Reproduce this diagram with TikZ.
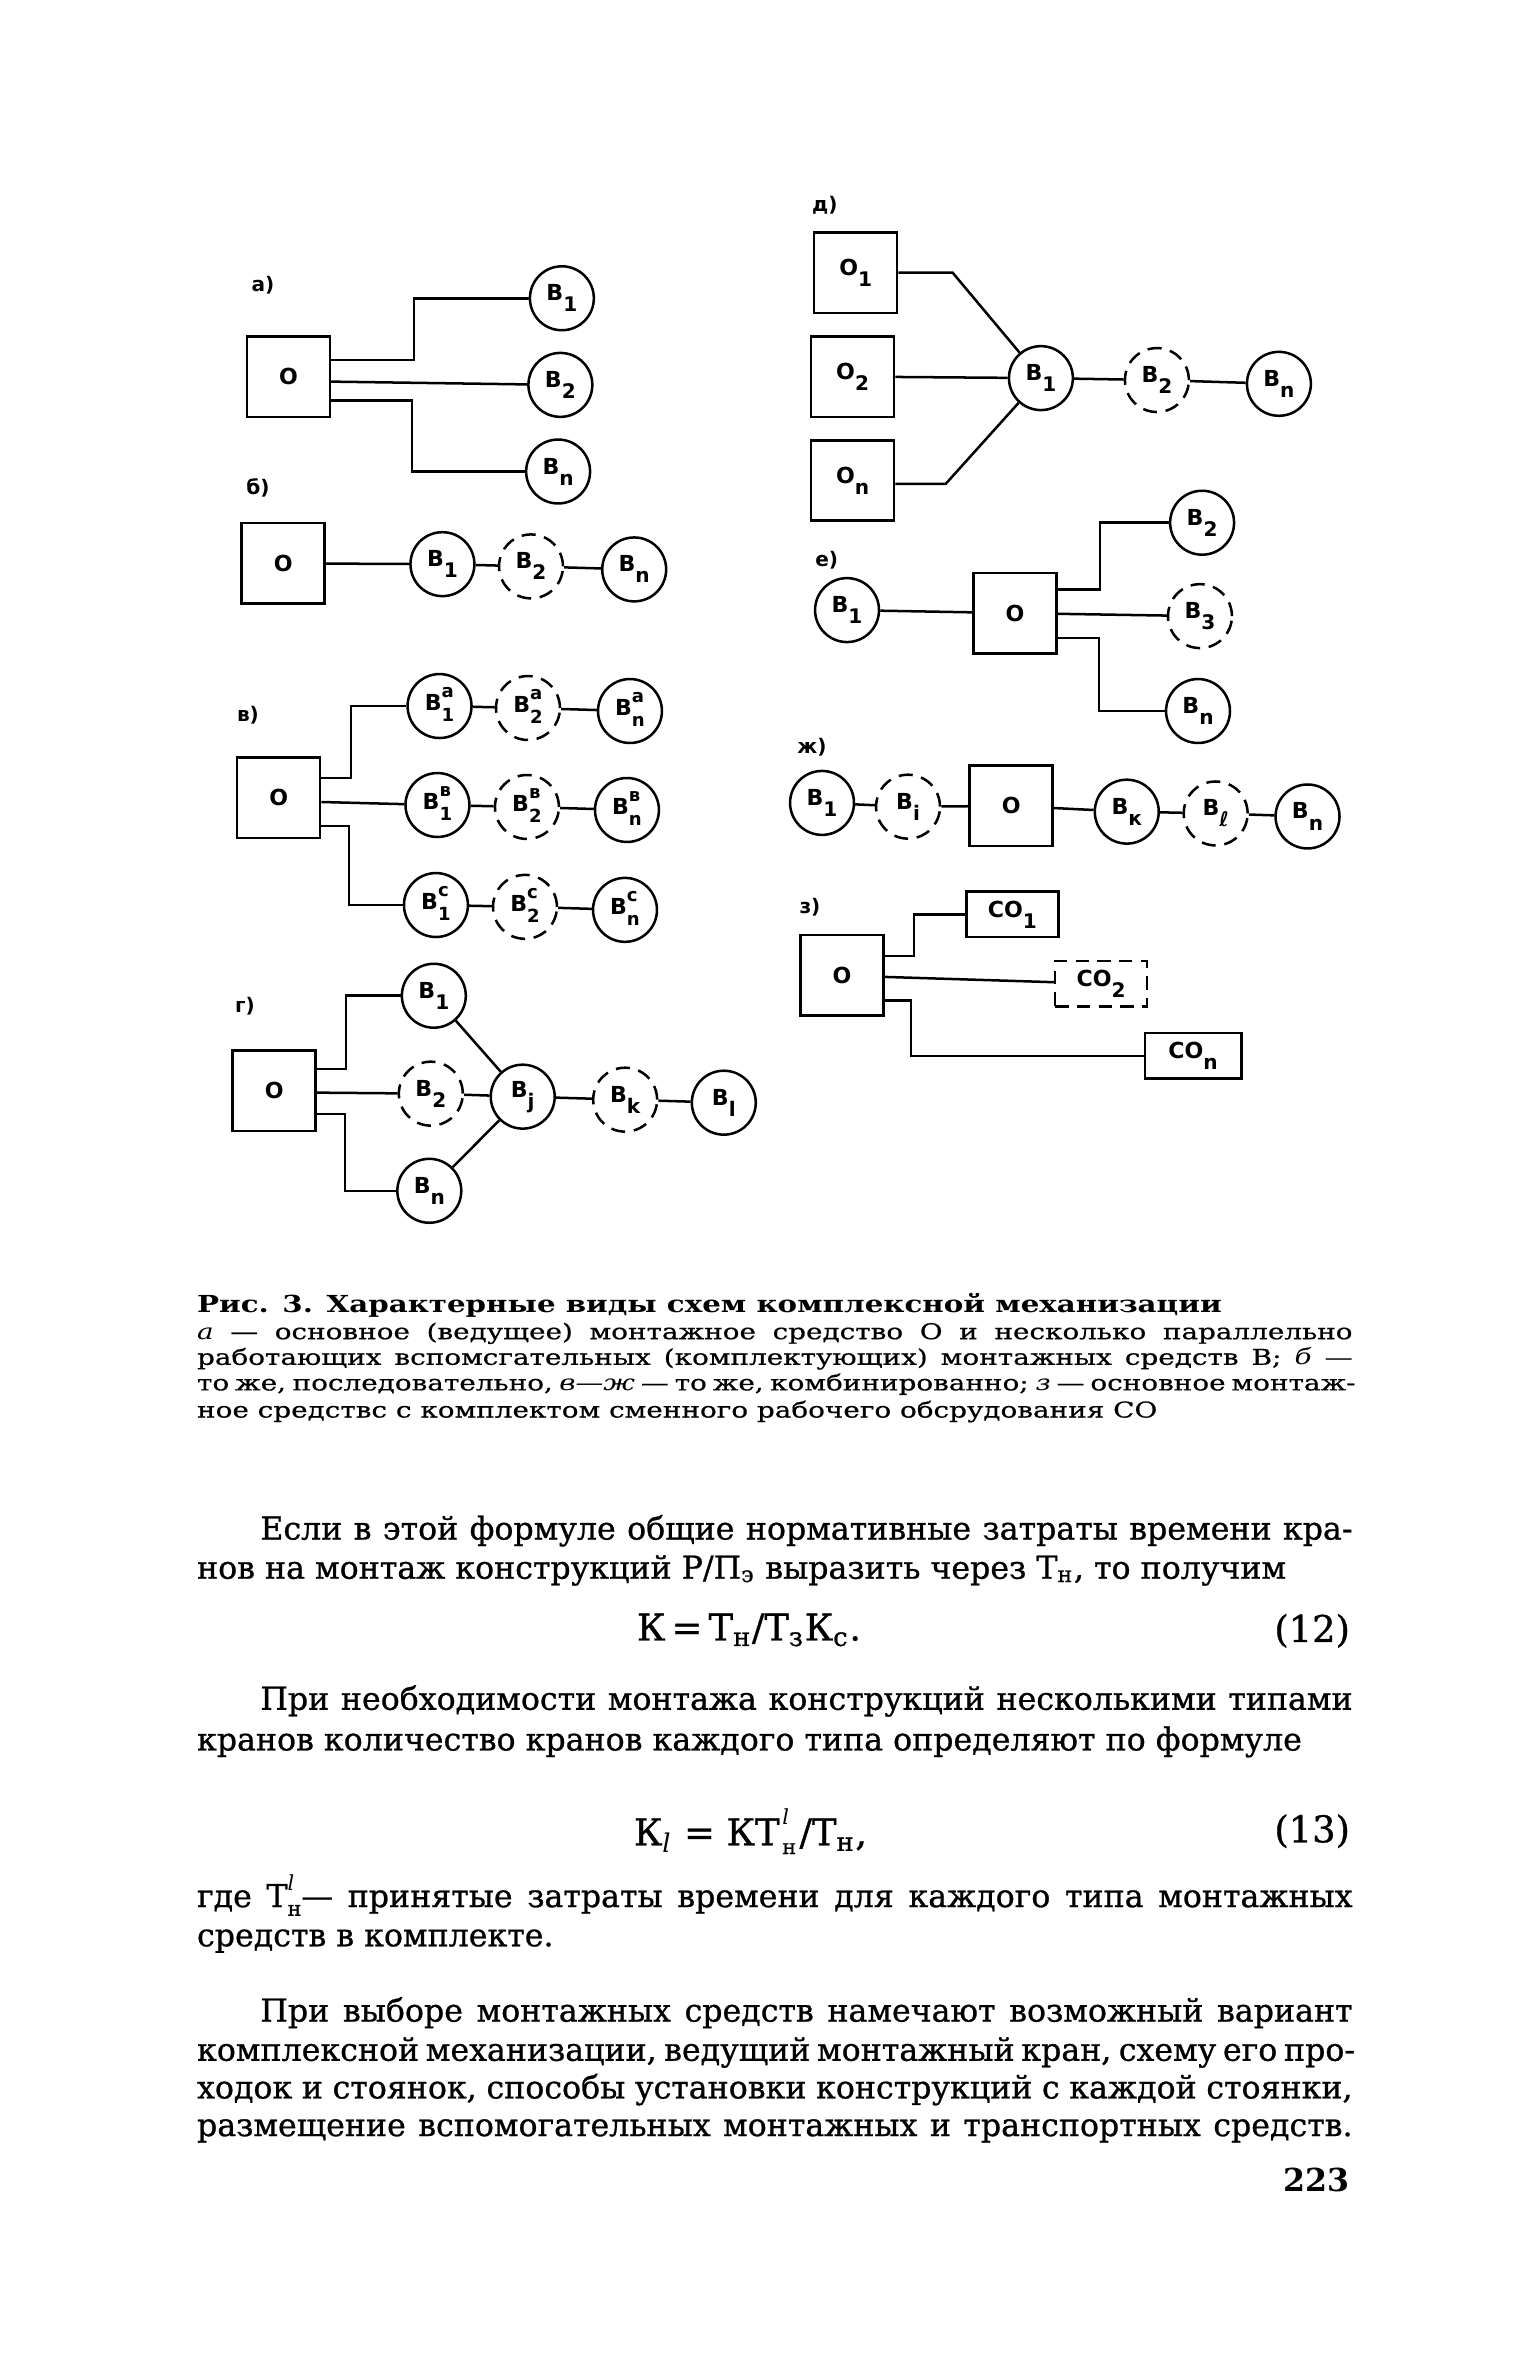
\documentclass[tikz,border=0pt]{standalone}
\usepackage{fontspec}
\setmainfont{DejaVu Serif}[UprightFeatures={FakeBold=0.8}]
\newfontfamily\labfont{DejaVu Sans}
\newfontfamily\capfont{DejaVu Serif}[FakeStretch=1.28, UprightFeatures={FakeBold=0.6}]
\newfontfamily\headfont{DejaVu Serif}[FakeStretch=1.25]
\usetikzlibrary{positioning}
\newlength\fullw \setlength\fullw{345.15pt}
\newlength\indw \setlength\indw{326.25pt}
\newcommand\lsub[1]{\raisebox{-3.3pt}{\fontsize{6}{6}\selectfont #1}}
\newcommand\lsupsub[2]{\raisebox{-3.3pt}{\fontsize{5.4}{5.6}\selectfont\begin{tabular}[b]{@{}l@{}}#1\\[1.6pt]#2\end{tabular}}}
\newcommand\tsupsub[3][1pt]{\raisebox{-2.6pt}{\fontsize{6.2}{6.6}\selectfont\begin{tabular}[b]{@{}l@{}}#2\\[#1]#3\end{tabular}}}
\newcommand\jline[2]{\makebox[#1][s]{#2}}
\tikzset{
  every picture/.style={line width=0.75pt},
  obox/.style={draw, minimum width=24.8pt, minimum height=24pt, inner sep=0pt, font=\labfont\bfseries\fontsize{6.6}{7}\selectfont},
  aux/.style={circle, draw, minimum size=19.1pt, inner sep=0pt, font=\labfont\bfseries\fontsize{6.6}{7}\selectfont},
  auxd/.style={aux, dash pattern=on 4.2pt off 2.6pt},
  cobox/.style={draw, minimum width=27.5pt, minimum height=13.6pt, inner sep=0pt, font=\labfont\bfseries\fontsize{6.6}{7}\selectfont},
  tag/.style={inner sep=0pt, font=\labfont\bfseries\fontsize{6}{6}\selectfont},
  txt/.style={anchor=base west, inner sep=0pt, font=\fontsize{9.45}{11}\selectfont},
  formula/.style={anchor=base west, inner sep=0pt, font=\fontsize{11}{12}\selectfont},
  captxt/.style={anchor=base west, inner sep=0pt, font=\capfont\fontsize{6.5}{7}\selectfont},
}

\begin{document}
\begin{tikzpicture}[x=0.45pt, y=-0.45pt]
  \useasboundingbox (0,0) rectangle (1019,1568);
  \fill[white] (0,0) rectangle (1019,1568);

  % а)
  \node[tag] (ta) at (174.6,189) {а)};
  \node[obox] (aO) at (191.5,250) {О};
  \node[aux] (aB1) at (373,198) {В\lsub{1}};
  \node[aux] (aB2) at (372,255.5) {В\lsub{2}};
  \node[aux] (aBn) at (370.5,313) {В\lsub{n}};
  \draw ([yshift=4.95pt]aO.east) -- ++(55,0) |- (aB1);
  \draw ([yshift=-1.5pt]aO.east) -- (aB2);
  \draw ([yshift=-7.2pt]aO.east) -- ++(53.5,0) |- (aBn);

  % б)
  \node[tag] (tb) at (171.3,324) {б)};
  \node[obox] (bO) at (188,374) {О};
  \node[aux] (bB1) at (293.7,374.5) {В\lsub{1}};
  \node[auxd] (bB2) at (352.5,376) {В\lsub{2}};
  \node[aux] (bBn) at (421,378) {В\lsub{n}};
  \draw (bO) -- (bB1) -- (bB2) -- (bBn);

  % в)
  \node[tag] (tv) at (164.6,474.6) {в)};
  \node[obox] (vO) at (185,529.6) {О};
  \node[aux] (va1) at (291.8,468.7) {В\lsupsub{a}{1}};
  \node[auxd] (va2) at (350.5,470) {В\lsupsub{a}{2}};
  \node[aux] (van) at (418.2,472) {В\lsupsub{a}{n}};
  \node[aux] (vb1) at (290.4,534.4) {В\lsupsub{в}{1}};
  \node[auxd] (vb2) at (349.8,535.7) {В\lsupsub{в}{2}};
  \node[aux] (vbn) at (416.2,537.7) {В\lsupsub{в}{n}};
  \node[aux] (vc1) at (289.4,600.8) {В\lsupsub{c}{1}};
  \node[auxd] (vc2) at (348.5,602) {В\lsupsub{c}{2}};
  \node[aux] (vcn) at (414.9,604) {В\lsupsub{c}{n}};
  \draw ([yshift=5.9pt]vO.east) -- ++(19.7,0) |- (va1);
  \draw ([yshift=-1.26pt]vO.east) -- (vb1);
  \draw ([yshift=-8.4pt]vO.east) -- ++(18.4,0) |- (vc1);
  \draw (va1) -- (va2) -- (van);
  \draw (vb1) -- (vb2) -- (vbn);
  \draw (vc1) -- (vc2) -- (vcn);

  % г)
  \node[tag] (tg) at (162.6,667.8) {г)};
  \node[obox] (gO) at (182,724) {О};
  \node[aux] (gB1) at (288,661) {В\lsub{1}};
  \node[auxd] (gB2) at (286,726) {В\lsub{2}};
  \node[aux] (gBn) at (285,790.5) {В\lsub{n}};
  \node[aux] (gBj) at (347,728) {В\lsub{j}};
  \node[auxd] (gBk) at (415,730) {В\lsub{k}};
  \node[aux] (gBl) at (480.5,732) {В\lsub{l}};
  \draw ([yshift=6.4pt]gO.east) -- ++(19.4,0) |- (gB1);
  \draw ([yshift=-0.6pt]gO.east) -- (gB2);
  \draw ([yshift=-7pt]gO.east) -- ++(18.6,0) |- (gBn);
  \draw (gB1) -- (gBj);
  \draw (gB2) -- (gBj);
  \draw (gBn) -- (gBj);
  \draw (gBj) -- (gBk) -- (gBl);

  % д)
  \node[tag] (td) at (547.6,136) {д)};
  \node[obox] (dO1) at (568,181) {О\lsub{1}};
  \node[obox] (dO2) at (566,250) {О\lsub{2}};
  \node[obox] (dOn) at (566,319) {О\lsub{n}};
  \node[aux] (dB1) at (691,251) {В\lsub{1}};
  \node[auxd] (dB2) at (768,252.3) {В\lsub{2}};
  \node[aux] (dBn) at (849,254.8) {В\lsub{n}};
  \draw (dO1.east) -- ++(36,0) -- (dB1);
  \draw (dO2) -- (dB1);
  \draw ([yshift=-1pt]dOn.east) -- ++(33.4,0) -- (dB1);
  \draw (dB1) -- (dB2) -- (dBn);

  % е)
  \node[tag] (te) at (548.8,371.7) {е)};
  \node[aux] (eB1) at (562.3,405) {В\lsub{1}};
  \node[obox] (eO) at (673.8,407) {О};
  \node[aux] (eB2) at (798,347) {В\lsub{2}};
  \node[auxd] (eB3) at (796.6,409) {В\lsub{3}};
  \node[aux] (eBn) at (795.3,472) {В\lsub{n}};
  \draw (eB1) -- (eO);
  \draw ([yshift=7.1pt]eO.east) -- ++(28,0) |- (eB2);
  \draw (eO) -- (eB3);
  \draw ([yshift=-7.5pt]eO.east) -- ++(27.3,0) |- (eBn);

  % ж)
  \node[tag] (tz) at (539,495.7) {ж)};
  \node[aux] (zB1) at (545.7,533) {В\lsub{1}};
  \node[auxd] (zBi) at (602.8,535.5) {В\lsub{i}};
  \node[obox] (zO) at (671.3,535) {О};
  \node[aux] (zBk) at (748,538.8) {В\lsub{к}};
  \node[auxd] (zBl) at (807,540) {В\lsub{ℓ}};
  \node[aux] (zBn) at (868,542) {В\lsub{n}};
  \draw (zB1) -- (zBi) -- (zO) -- (zBk) -- (zBl) -- (zBn);

  % з)
  \node[tag] (ts) at (537.7,601.9) {з)};
  \node[obox] (sO) at (559,647.4) {О};
  \node[cobox] (sC1) at (672,607) {СО\lsub{1}};
  \node[cobox, dash pattern=on 4pt off 2.5pt] (sC2) at (731,653) {СО\lsub{2}};
  \node[cobox, minimum width=28.8pt] (sCn) at (792,701) {СО\lsub{n}};
  \draw ([yshift=5.8pt]sO.east) -- ++(19.4,0) |- (sC1);
  \draw ([yshift=-0.5pt]sO.east) -- (sC2);
  \draw ([yshift=-7.5pt]sO.east) -- ++(17.4,0) |- (sCn);

  % caption
  \node[anchor=base west, inner sep=0pt, font=\headfont\bfseries\fontsize{7}{8}\selectfont] (title) at (130,871)
    {Рис. 3. Характерные виды схем комплексной механизации};
  \node[captxt] (c1) at (130,889) {\jline{\fullw}{\textit{а} — основное (ведущее) монтажное средство О и несколько параллельно}};
  \node[captxt] (c2) at (130,906) {\jline{\fullw}{работающих вспомсгательных (комплектующих) монтажных средств В; \textit{б} —}};
  \node[captxt] (c3) at (130,923) {\jline{\fullw}{то же, последовательно, \textit{в—ж} — то же, комбинированно; \textit{з} — основное монтаж-}};
  \node[captxt] (c4) at (130,941) {ное средствс с комплектом сменного рабочего обсрудования СО};

  % text
  \node[txt] (p1) at (172,1022) {\jline{\indw}{Если в этой формуле общие нормативные затраты времени кра-}};
  \node[txt] (p2) at (130,1048) {нов на монтаж конструкций Р/П\textsubscript{э} выразить через Т\textsubscript{н}, то получим};
  \node[formula] (f12) at (422,1089) {К\,=\,Т\textsubscript{н}/Т\textsubscript{з}К\textsubscript{с}.};
  \node[formula, anchor=base east] (n12) at (897,1090) {(12)};
  \node[txt] (p3) at (172,1135) {\jline{\indw}{При необходимости монтажа конструкций несколькими типами}};
  \node[txt] (p4) at (130,1162) {кранов количество кранов каждого типа определяют по формуле};
  \node[formula] (f13) at (420,1225) {К\textsubscript{\textit{l}} = КТ\kern0.8pt\tsupsub[2.2pt]{\textit{l}}{н}\kern1pt/Т\textsubscript{н},};
  \node[formula, anchor=base east] (n13) at (897,1223) {(13)};
  \node[txt] (p5) at (130,1266) {\jline{\fullw}{где Т\tsupsub{\textit{l}}{н}— принятые затраты времени для каждого типа монтажных}};
  \node[txt] (p6) at (130,1292) {средств в комплекте.};
  \node[txt] (p7) at (172,1342) {\jline{\indw}{При выборе монтажных средств намечают возможный вариант}};
  \node[txt] (p8) at (130,1368) {\jline{\fullw}{комплексной механизации, ведущий монтажный кран, схему его про-}};
  \node[txt] (p9) at (130,1393) {\jline{\fullw}{ходок и стоянок, способы установки конструкций с каждой стоянки,}};
  \node[txt] (p10) at (130,1418) {\jline{\fullw}{размещение вспомогательных монтажных и транспортных средств.}};
  \node[txt, anchor=base east, font=\bfseries\fontsize{9.45}{11}\selectfont] (page) at (897,1455) {223};
\end{tikzpicture}
\end{document}
